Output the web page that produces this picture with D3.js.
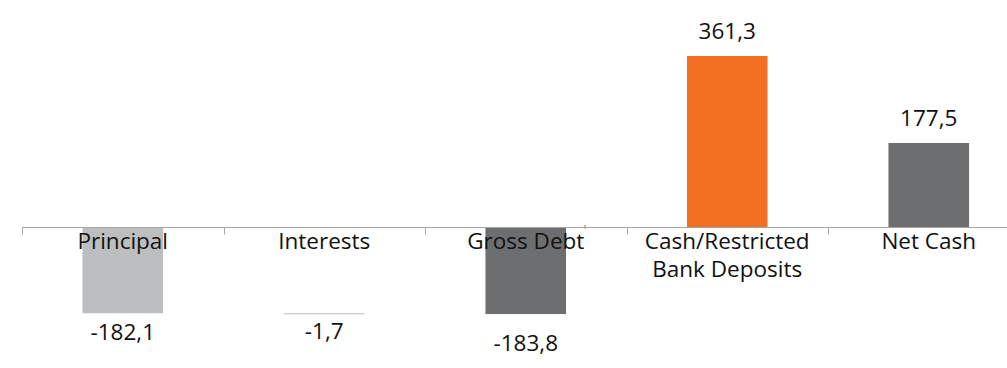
<!DOCTYPE html>
<html>
<head>
<meta charset="utf-8">
<script src="https://cdn.jsdelivr.net/npm/d3@7/dist/d3.min.js"></script>
<style>
  html, body { margin: 0; padding: 0; background: #fff; overflow: hidden; }
  svg { display: block; }
  text { font-family: "Open Sans", "Noto Sans", sans-serif; fill: #111; }
</style>
</head>
<body>
<svg id="chart" width="1007" height="368"></svg>
<script>
// Debt / cash position (waterfall-style bars)
const categories = ["Principal", "Interests", "Gross Debt", "Cash/Restricted\nBank Deposits", "Net Cash"];
const values = [-182.1, -1.7, -183.8, 361.3, 177.5];
const valueLabels = ["-182,1", "-1,7", "-183,8", "361,3", "177,5"];
// a floating step starts where the previous bar ended
const floating = [false, true, false, false, false];
const barColors = ["#bdbec0", "#bdbec0", "#6d6e70", "#f37021", "#6d6e70"];

const svg = d3.select("#chart");
const fontSize = 22.5;

// bar extents
const bars = [];
let prevEnd = 0;
values.forEach((v, i) => {
  const base = floating[i] ? prevEnd : 0;
  const end = base + v;
  bars.push({ cat: categories[i], base, end, value: v, label: valueLabels[i], color: barColors[i] });
  prevEnd = end;
});

const x = d3.scaleBand()
  .domain(categories)
  .range([22, 1029.5])
  .paddingInner(0.6)
  .paddingOuter(0.3);

const y = d3.scaleLinear()
  .domain([-200, 400])
  .range([321.7, 37.7]);

// bars
svg.append("g").selectAll("rect")
  .data(bars)
  .join("rect")
  .attr("x", d => x(d.cat))
  .attr("width", x.bandwidth())
  .attr("y", d => Math.min(y(d.base), y(d.end)))
  .attr("height", d => Math.max(1, Math.abs(y(d.base) - y(d.end))))
  .attr("fill", d => d.color);

// category axis on the zero line, ticks between categories
const y0 = Math.round(y(0)) + 0.5;
const step = x.step();
const start = x.range()[0];
const axis = svg.append("g").attr("stroke", "#a6a6a6").attr("stroke-width", 1);
axis.append("line")
  .attr("x1", start).attr("x2", x.range()[1])
  .attr("y1", y0).attr("y2", y0);
axis.selectAll("line.tick")
  .data(d3.range(categories.length + 1))
  .join("line")
  .attr("class", "tick")
  .attr("x1", i => Math.round(start + i * step) + 0.5)
  .attr("x2", i => Math.round(start + i * step) + 0.5)
  .attr("y1", y0).attr("y2", y0 + 7);

// small stray "1" marker on the axis
svg.append("text")
  .attr("x", 585).attr("y", y0 + 1)
  .attr("text-anchor", "middle")
  .attr("font-size", 6)
  .style("fill", "#555")
  .text("1");

// category labels
const catG = svg.append("g");
categories.forEach(c => {
  const lines = c.split("\n");
  const t = catG.append("text")
    .attr("x", x(c) + x.bandwidth() / 2)
    .attr("y", 249)
    .attr("text-anchor", "middle")
    .attr("font-size", fontSize);
  lines.forEach((ln, k) => {
    t.append("tspan")
      .attr("x", x(c) + x.bandwidth() / 2)
      .attr("dy", k === 0 ? 0 : 28)
      .text(ln);
  });
});

// value labels
const labelDrop = [0, -2, 10, 0, 0];
svg.append("g").selectAll("text")
  .data(bars)
  .join("text")
  .attr("x", d => x(d.cat) + x.bandwidth() / 2)
  .attr("y", (d, i) => d.value >= 0
    ? y(d.end) - 17
    : y(d.end) + 27 + labelDrop[i])
  .attr("text-anchor", "middle")
  .attr("font-size", fontSize)
  .text(d => d.label);
</script>
</body>
</html>
